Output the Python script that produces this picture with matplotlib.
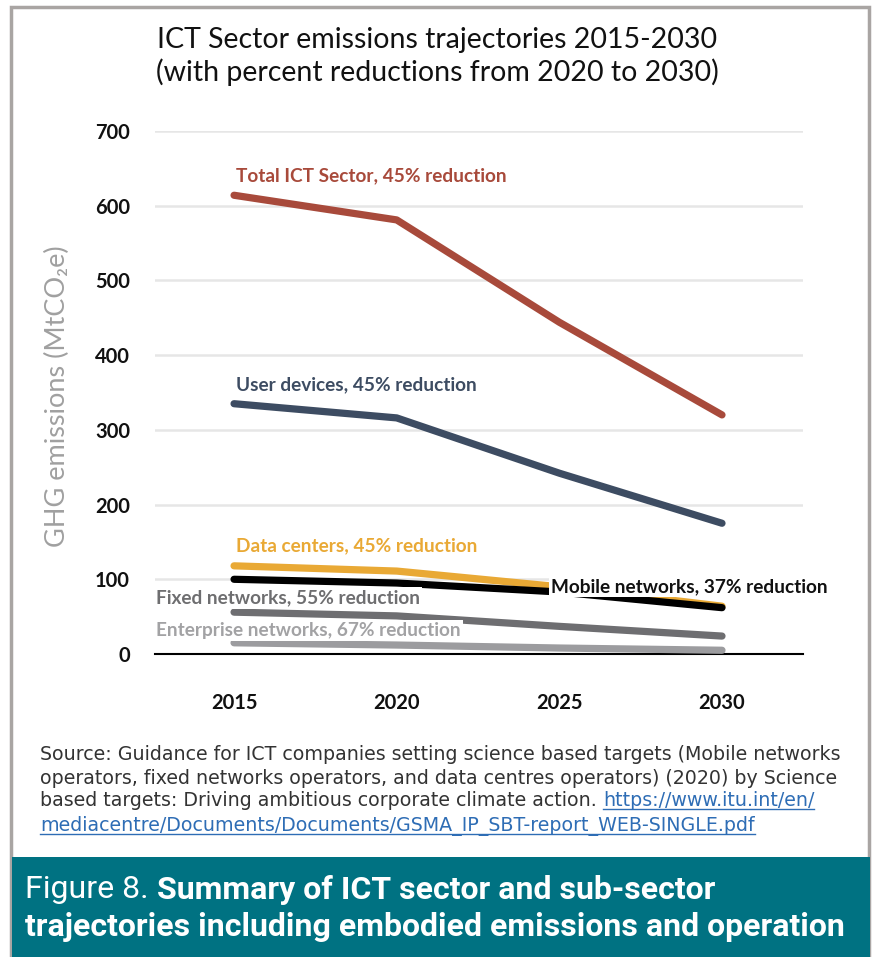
import matplotlib
matplotlib.use("Agg")
import matplotlib.pyplot as plt
from matplotlib.patches import Rectangle
from matplotlib.lines import Line2D

years = [2015, 2020, 2025, 2030]

total_ict = [614, 581, 444, 320]
user_devices = [335, 316, 242, 175]
data_centers = [118, 111, 90, 64]
mobile_networks = [100, 95, 83, 62]
fixed_networks = [56, 51, 37, 24]
enterprise_networks = [15, 12, 8, 5]

y_ticks = [0, 100, 200, 300, 400, 500, 600, 700]

series = [
    # name, values, line colour, label text, label colour, label x, label y
    ("total", total_ict, "#a84a3b", "Total ICT Sector, 45% reduction", "#a84a3b", 2015.05, 640),
    ("user", user_devices, "#3d4c62", "User devices, 45% reduction", "#3d4c62", 2015.05, 360),
    ("dc", data_centers, "#e9a935", "Data centers, 45% reduction", "#e9a935", 2015.05, 145),
    ("mobile", mobile_networks, "#000000", "Mobile networks, 37% reduction", "#111111", 2024.75, 90),
    ("fixed", fixed_networks, "#6e6e71", "Fixed networks, 55% reduction", "#6e6e70", 2012.6, 75),
    ("ent", enterprise_networks, "#9c9c9f", "Enterprise networks, 67% reduction", "#a2a2a4", 2012.6, 31),
]

FONT = ["Lato", "DejaVu Sans"]

fig = plt.figure(figsize=(8.72, 9.57), dpi=100)
fig.patch.set_facecolor("white")

# outer frame and caption band
fig.patches.append(Rectangle((11 / 872, 0), 858 / 872, 950 / 957, transform=fig.transFigure,
                             fill=False, edgecolor="#a9a5a3", linewidth=2.5, zorder=0))
fig.patches.append(Rectangle((12 / 872, 0), 858 / 872, 100 / 957, transform=fig.transFigure,
                             facecolor="#007282", edgecolor="none", zorder=1))

ax = fig.add_axes([155 / 872, 1 - 654 / 957, 648 / 872, 523 / 957])
ax.set_xlim(2012.57, 2032.49)
ax.set_ylim(0, 700)

for name, vals, col, txt, tcol, lx, ly in series:
    z = 4 if name == "mobile" else 3
    ax.plot(years, vals, color=col, lw=5.2, solid_capstyle="round", solid_joinstyle="round", zorder=z)
    ax.text(lx, ly, txt, color=tcol, fontsize=13.7, fontweight="bold", family=FONT,
            ha="left", va="center", zorder=6,
            bbox=dict(facecolor="white", edgecolor="none", pad=1.5))

ax.set_yticks(y_ticks)
ax.set_xticks(years)
ax.grid(axis="y", color="#e6e6e6", lw=1.8, zorder=0)
ax.set_axisbelow(True)
for s in ["top", "right", "left"]:
    ax.spines[s].set_visible(False)
ax.spines["bottom"].set_color("black")
ax.spines["bottom"].set_linewidth(1.5)
ax.spines["bottom"].set_zorder(2)
ax.tick_params(axis="both", length=0)
ax.tick_params(axis="y", pad=18)
ax.tick_params(axis="x", pad=28)
for lab in ax.get_yticklabels() + ax.get_xticklabels():
    lab.set_fontsize(14.5)
    lab.set_fontweight("bold")
    lab.set_family(FONT)
    lab.set_color("#111111")

fig.text(57 / 872, 1 - 396 / 957, "GHG emissions (MtCO\u2082e)", rotation=90, ha="center", va="center",
         fontsize=19.5, color="#a0a0a0", family=FONT)

fig.text(437 / 872, 1 - 40 / 957, "ICT Sector emissions trajectories 2015-2030", ha="center", va="center",
         fontsize=20.5, family=FONT, color="#111111")
fig.text(437 / 872, 1 - 72 / 957, "(with percent reductions from 2020 to 2030)", ha="center", va="center",
         fontsize=20.5, family=FONT, color="#111111")

# source note
SRC = ["Liberation Sans Narrow", "DejaVu Sans"]
src_lines = [
    "Source: Guidance for ICT companies setting science based targets (Mobile networks",
    "operators, fixed networks operators, and data centres operators) (2020) by Science",
    "based targets: Driving ambitious corporate climate action. ",
]
src_y = [755, 778, 801, 826]
for t, yy in zip(src_lines, src_y):
    fig.text(40 / 872, 1 - yy / 957, t, ha="left", va="center", fontsize=13.7, family=SRC, color="#333333")

fig.canvas.draw()
r = fig.canvas.get_renderer()

t3 = fig.texts[-1]
bb = t3.get_window_extent(r)
url1 = fig.text(bb.x1 / 872, 1 - src_y[2] / 957, "https://www.itu.int/en/", ha="left", va="center",
                fontsize=13.7, family=SRC, color="#2e6db5")
url2 = fig.text(40 / 872, 1 - src_y[3] / 957,
                "mediacentre/Documents/Documents/GSMA_IP_SBT-report_WEB-SINGLE.pdf", ha="left", va="center",
                fontsize=13.7, family=SRC, color="#2e6db5")
fig.canvas.draw()
for u in (url1, url2):
    b = u.get_window_extent(r)
    yline = (b.y0 + 2) / 957
    fig.lines.append(Line2D([b.x0 / 872, b.x1 / 872], [yline, yline], transform=fig.transFigure,
                            color="#2e6db5", lw=1))

# caption in the band
CAP = ["Roboto", "DejaVu Sans"]
c1 = fig.text(25 / 872, 1 - 890 / 957, "Figure 8. ", ha="left", va="center", fontsize=23, family=CAP,
              color="white")
fig.canvas.draw()
b = c1.get_window_extent(r)
fig.text(b.x1 / 872, 1 - 890 / 957, "Summary of ICT sector and sub-sector", ha="left", va="center",
         fontsize=23, family=CAP, color="white", fontweight="bold")
fig.text(25 / 872, 1 - 927 / 957, "trajectories including embodied emissions and operation", ha="left",
         va="center", fontsize=23, family=CAP, color="white", fontweight="bold")

fig.savefig("out.png", dpi=100, facecolor="white")
